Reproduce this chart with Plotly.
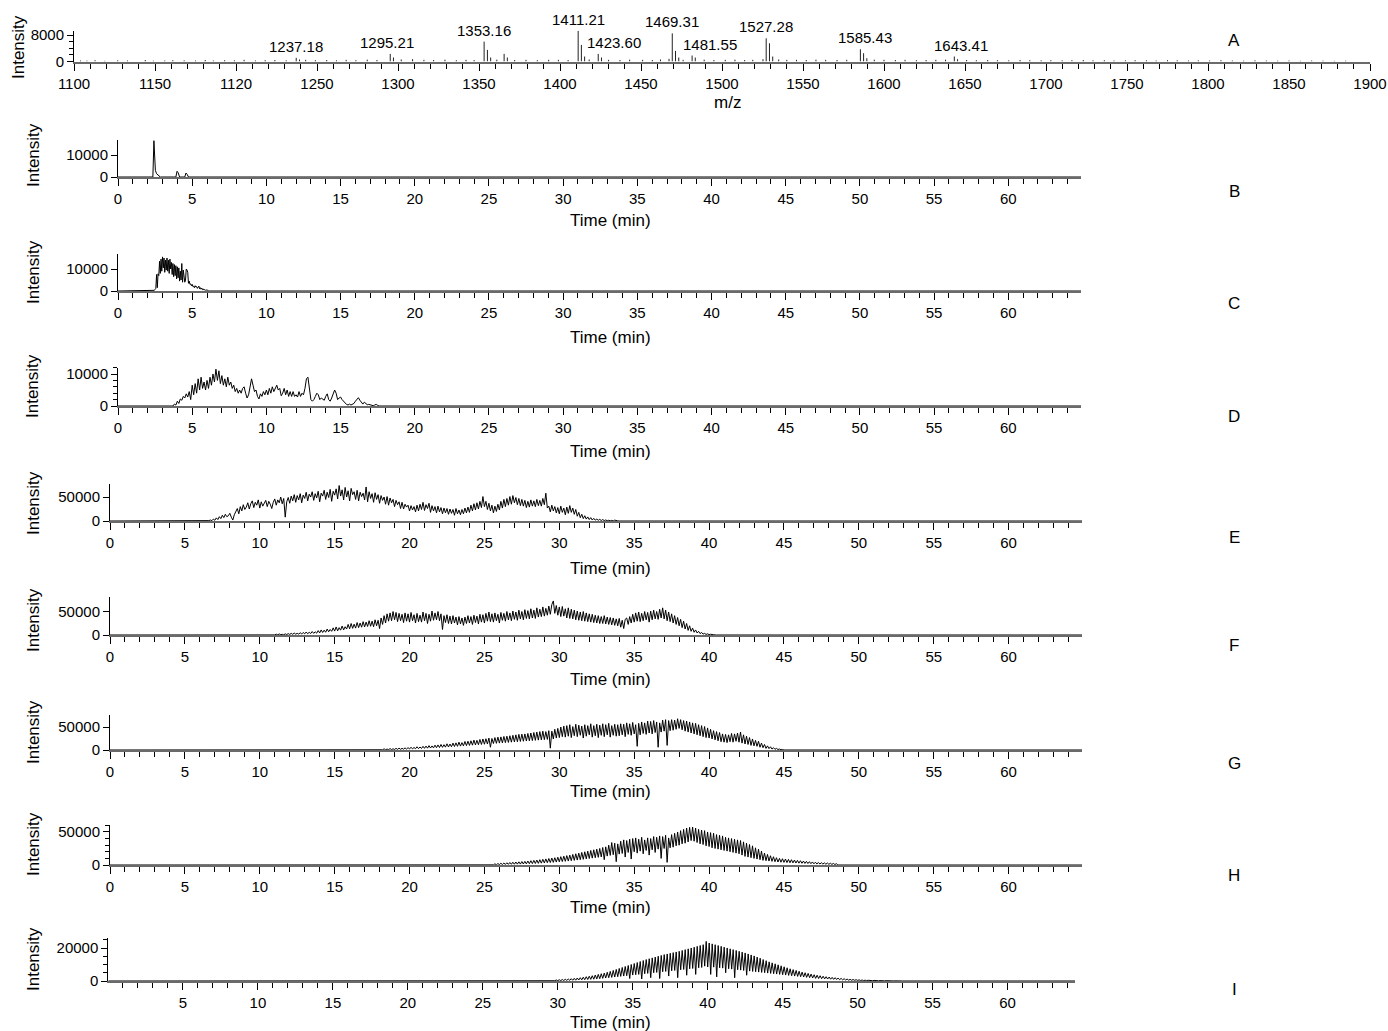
import plotly.graph_objects as go

W, H = 1388, 1031

# ---------------- Panel A: MALDI mass spectrum ----------------
peak_mz = [1237.18, 1239.2, 1295.21, 1297.2, 1309.0, 1353.16, 1355.2, 1357.2,
           1365.5, 1367.5, 1393.0, 1411.21, 1413.2, 1415.2, 1423.60, 1425.6,
           1467.3, 1469.31, 1471.3, 1473.3, 1481.55, 1483.5, 1525.3, 1527.28,
           1529.3, 1531.3, 1540.0, 1585.43, 1587.4, 1589.4, 1643.41, 1645.4]
peak_int = [1100, 600, 2300, 1200, 700, 6000, 3500, 1200,
            2300, 1200, 500, 9300, 5000, 1500, 2300, 1200,
            800, 8500, 3200, 1200, 1800, 1200, 700, 7000,
            5500, 1500, 500, 3700, 2500, 1000, 1500, 700]
labelled_mz = [1237.18, 1295.21, 1353.16, 1411.21, 1423.60, 1469.31,
               1481.55, 1527.28, 1585.43, 1643.41]
label_xshift = [0, -3, 0, 0, 16, 0, 18, 0, 5, 7]

noise_mz = [1104, 1108, 1113, 1119, 1127, 1133, 1144, 1149, 1156, 1161,
            1168, 1175, 1181, 1186, 1193, 1199, 1205, 1212, 1218, 1224,
            1231, 1243, 1249, 1256, 1262, 1268, 1274, 1281, 1287, 1302,
            1316, 1322, 1329, 1336, 1342, 1347, 1361, 1372, 1379, 1386,
            1399, 1405, 1418, 1430, 1437, 1443, 1451, 1457, 1462, 1476,
            1489, 1495, 1502, 1508, 1514, 1519, 1535, 1546, 1552, 1558,
            1564, 1571, 1577, 1594, 1600, 1607, 1613, 1620, 1626, 1632,
            1638, 1651, 1657, 1664, 1670, 1677, 1684, 1690, 1697, 1703,
            1710, 1716, 1723, 1729, 1736, 1742, 1749, 1755, 1762, 1768,
            1775, 1781, 1788, 1794, 1801, 1808, 1815, 1822, 1829, 1836,
            1843, 1850, 1857, 1864, 1871, 1878, 1885]
noise_int = [300, 250, 400, 200, 350, 300, 450, 250, 300, 400,
             350, 300, 450, 300, 400, 350, 500, 300, 400, 450,
             350, 500, 400, 450, 350, 500, 400, 550, 450, 600,
             500, 450, 550, 400, 500, 450, 550, 450, 500, 400,
             500, 450, 600, 500, 450, 550, 500, 450, 600, 500,
             550, 450, 500, 550, 450, 500, 600, 500, 450, 550,
             500, 450, 500, 550, 500, 450, 500, 400, 450, 500,
             550, 450, 400, 450, 400, 350, 450, 400, 350, 400,
             350, 400, 450, 350, 400, 300, 350, 400, 350, 300,
             400, 350, 300, 350, 300, 400, 300, 250, 350, 300,
             250, 300, 200, 300, 250, 200, 250]

# ---------------- Panels B-I: extracted ion chromatograms ----------------
B_time = [0, 2.35, 2.42, 2.47, 2.52, 2.6, 2.7, 2.85, 3.9, 3.98, 4.05, 4.15,
          4.5, 4.58, 4.66, 4.75]
B_int = [0, 0, 16500, 12000, 3000, 1500, 800, 0, 0, 2600, 2000, 0,
         0, 1800, 1200, 0]

C_t0, C_dt = 2.40, 0.05
C_int = [0, 300, 800, 1200, 7500, 1500, 7800, 7000, 13500, 8000,
         14500, 9000, 15500, 10500, 15000, 8500, 14000, 9500, 15000, 9000,
         14000, 8000, 14500, 10000, 13000, 7500, 12500, 6500, 12000, 7000,
         11500, 5500, 11000, 6000, 10500, 4500, 9000, 5000, 12500, 4000,
         9500, 4500, 4000, 5000, 10000, 9500, 8500, 3500, 4500, 3000,
         3200, 2400, 3000, 2000, 2200, 1500, 2400, 1800, 2000, 1200,
         1600, 2200, 1000, 1500, 800, 1300, 600, 900, 400, 700,
         300, 500, 200, 400, 100, 0]

D_t0, D_dt = 3.5, 0.1
D_int = [0, 200, 0, 600, 300, 1500, 800, 2200, 1800, 3000,
         2500, 3800, 2800, 4500, 2000, 6500, 3500, 7000, 4000, 8500,
         5000, 9000, 5500, 7500, 5000, 8000, 5500, 9000, 6500, 10000,
         7500, 11500, 8000, 11000, 7000, 9500, 6500, 8500, 6000, 9000,
         6500, 7500, 5500, 6500, 4500, 5500, 4000, 5000, 4000, 5500,
         6000, 4000, 2500, 3500, 6000, 8500, 6500, 4500, 5000, 3000,
         2200, 3800, 3000, 4500, 3500, 5000, 3500, 5500, 4000, 6000,
         4500, 5500, 6500, 5000, 5500, 3200, 4000, 5500, 3500, 5000,
         3000, 4500, 3000, 4500, 3000, 3500, 2800, 4500, 3000, 4000,
         3500, 5500, 8500, 9000, 5000, 2000, 1500, 2000, 3000, 4000,
         3500, 2000, 2500, 2000, 1800, 3000, 3800, 2000, 1500, 2500,
         4000, 5000, 4000, 2000, 2500, 2800, 2000, 1500, 800, 500,
         300, 600, 300, 500, 800, 1500, 2200, 2600, 1800, 1000,
         600, 1200, 900, 400, 500, 300, 200, 100, 300, 500,
         200, 0]

E_t0, E_dt = 6.5, 0.1
E_int = [0, 800, 2000, 600, 4000, 1500, 6500, 3000, 9000, 5000,
         12000, 7000, 14000, 9000, 11000, 16000, 8000, 2000, 13000, 19000,
         26000, 15000, 30000, 21000, 34000, 24000, 29000, 38000, 25000, 36000,
         42000, 28000, 39000, 33000, 44000, 27000, 40000, 31000, 37000, 43000,
         30000, 41000, 35000, 26000, 39000, 46000, 33000, 44000, 38000, 50000,
         36000, 47000, 8000, 40000, 49000, 37000, 52000, 42000, 55000, 39000,
         53000, 44000, 57000, 38000, 54000, 47000, 60000, 42000, 56000, 50000,
         61000, 43000, 57000, 48000, 62000, 40000, 58000, 52000, 64000, 45000,
         60000, 49000, 66000, 41000, 62000, 54000, 67000, 46000, 74000, 52000,
         65000, 44000, 70000, 50000, 63000, 42000, 68000, 55000, 61000, 45000,
         64000, 42000, 60000, 51000, 58000, 44000, 71000, 40000, 61000, 47000,
         57000, 39000, 59000, 45000, 55000, 37000, 53000, 43000, 50000, 35000,
         51000, 33000, 48000, 38000, 45000, 30000, 43000, 34000, 40000, 26000,
         39000, 25000, 35000, 29000, 33000, 21000, 32000, 23000, 30000, 19000,
         33000, 21000, 35000, 24000, 39000, 22000, 34000, 26000, 37000, 18000,
         32000, 21000, 30000, 17000, 31000, 19000, 28000, 15000, 27000, 17000,
         26000, 14000, 25000, 16000, 24000, 12000, 26000, 15000, 23000, 13000,
         24000, 15000, 27000, 17000, 29000, 18000, 33000, 21000, 36000, 23000,
         38000, 25000, 41000, 28000, 51000, 30000, 41000, 24000, 37000, 21000,
         33000, 17000, 31000, 20000, 35000, 23000, 41000, 27000, 45000, 30000,
         47000, 33000, 51000, 35000, 53000, 38000, 49000, 34000, 47000, 32000,
         45000, 31000, 43000, 28000, 41000, 29000, 44000, 31000, 42000, 30000,
         45000, 32000, 43000, 31000, 47000, 34000, 58000, 27000, 31000, 19000,
         33000, 21000, 30000, 17000, 28000, 15000, 31000, 18000, 27000, 13000,
         29000, 16000, 32000, 18000, 27000, 14000, 24000, 10000, 18000, 7000,
         14000, 5000, 11000, 4000, 8500, 3000, 7000, 2000, 5500, 1800,
         4000, 1500, 3500, 1000, 3000, 800, 2200, 600, 1500, 400,
         1200, 300, 1800, 200, 300, 0]

F_t0, F_dt = 10.8, 0.1
F_int = [0, 1200, 200, 1800, 500, 2200, 800, 1500, 400, 2500,
         900, 3000, 1200, 3500, 1500, 4200, 1800, 3600, 2000, 4800,
         2200, 5500, 2500, 6500, 2800, 5800, 3200, 7500, 3500, 7000,
         4000, 9500, 4500, 11000, 5500, 10500, 6000, 13000, 7000, 12000,
         8000, 15500, 8500, 17500, 9000, 16000, 10500, 19500, 11000, 18000,
         13000, 23000, 13500, 25000, 14500, 23500, 15000, 27000, 16000, 26000,
         17000, 29000, 17500, 28000, 18500, 31000, 19000, 30000, 18000, 33000,
         20000, 32000, 14000, 37000, 23000, 42000, 26000, 46000, 30000, 48000,
         31000, 51000, 33000, 49000, 29000, 47000, 31000, 45000, 27000, 48000,
         30000, 46000, 28000, 49000, 31000, 44000, 26000, 47000, 29000, 43000,
         28000, 50000, 31000, 47000, 25000, 45000, 30000, 52000, 32000, 48000,
         33000, 51000, 31000, 46000, 12000, 42000, 27000, 44000, 25000, 41000,
         24000, 42000, 26000, 39000, 22000, 40000, 24000, 37000, 21000, 39000,
         25000, 42000, 26000, 40000, 23000, 43000, 27000, 41000, 24000, 45000,
         28000, 44000, 26000, 47000, 30000, 50000, 29000, 46000, 28000, 48000,
         31000, 45000, 26000, 49000, 32000, 47000, 30000, 51000, 33000, 48000,
         31000, 52000, 34000, 50000, 32000, 54000, 35000, 51000, 33000, 55000,
         36000, 53000, 35000, 57000, 37000, 54000, 36000, 59000, 39000, 56000,
         40000, 61000, 41000, 58000, 43000, 63000, 45000, 66000, 74000, 47000,
         64000, 43000, 61000, 40000, 62000, 41000, 57000, 37000, 59000, 36000,
         56000, 35000, 54000, 33000, 52000, 32000, 50000, 31000, 51000, 30000,
         48000, 29000, 46000, 28000, 45000, 27000, 43000, 26000, 42000, 25000,
         40000, 25000, 42000, 24000, 39000, 23000, 38000, 22000, 37000, 21000,
         35000, 20000, 36000, 17000, 32000, 14000, 34000, 37000, 23000, 40000,
         26000, 45000, 28000, 48000, 30000, 50000, 29000, 47000, 31000, 51000,
         33000, 49000, 28000, 52000, 33000, 54000, 35000, 51000, 34000, 56000,
         37000, 59000, 35000, 54000, 31000, 50000, 29000, 46000, 26000, 42000,
         23000, 38000, 20000, 34000, 16000, 30000, 13000, 25000, 10000, 20000,
         8000, 15000, 6000, 11000, 4500, 8000, 3000, 5500, 2000, 3500,
         1200, 2500, 800, 1500, 400, 700, 200, 0]

G_t0, G_dt = 18.0, 0.1
G_int = [300, 1800, 500, 2500, 700, 2000, 900, 3000, 1000, 2600,
         1200, 3500, 1400, 4000, 1500, 3600, 1800, 4600, 2000, 5200,
         2200, 6000, 2500, 5500, 2800, 7000, 3000, 6500, 3300, 8000,
         3600, 8500, 4000, 9500, 4300, 8800, 4600, 10500, 5000, 11000,
         5400, 12000, 5800, 11500, 6200, 13500, 6600, 13000, 7000, 15000,
         7500, 15500, 8000, 17000, 8500, 16000, 9000, 18500, 9500, 19000,
         10000, 20000, 10500, 21500, 11000, 21000, 11500, 23000, 12000, 24000,
         12500, 24500, 13000, 26000, 6000, 25000, 14000, 27000, 14500, 28000,
         15000, 28500, 15500, 29500, 16000, 30000, 16500, 31000, 17000, 32000,
         17500, 33000, 18000, 34000, 18500, 34500, 19000, 35000, 19500, 36000,
         20000, 37000, 20500, 38000, 21000, 39000, 21500, 40000, 22000, 41000,
         22500, 40000, 23000, 42000, 4000, 41000, 24000, 45000, 26000, 47000,
         27000, 50000, 29000, 52000, 28000, 53000, 30000, 55000, 27000, 51000,
         31000, 56000, 29000, 54000, 32000, 52000, 26000, 55000, 30000, 53000,
         33000, 57000, 28000, 53000, 31000, 56000, 27000, 54000, 32000, 57000,
         29000, 55000, 33000, 58000, 28000, 53000, 32000, 56000, 30000, 55000,
         31000, 57000, 33000, 56000, 29000, 59000, 34000, 57000, 32000, 60000,
         35000, 55000, 8000, 58000, 33000, 61000, 36000, 59000, 34000, 63000,
         37000, 62000, 35000, 64000, 38000, 61000, 6000, 59000, 39000, 65000,
         41000, 66000, 10000, 64000, 42000, 66000, 43000, 65000, 45000, 68000,
         47000, 66000, 44000, 64000, 41000, 63000, 39000, 61000, 37000, 59000,
         35000, 58000, 33000, 55000, 31000, 53000, 29000, 51000, 27000, 48000,
         26000, 45000, 24000, 42000, 22000, 40000, 20000, 38000, 18000, 35000,
         17000, 34000, 16000, 33000, 18000, 36000, 17000, 35000, 19000, 37000,
         17000, 39000, 15000, 33000, 13000, 30000, 12000, 27000, 10000, 24000,
         9000, 21000, 8000, 19000, 6000, 15000, 5000, 12000, 3500, 9000,
         3000, 7000, 2000, 5000, 1500, 3500, 1000, 2200, 500, 1200,
         0]

H_t0, H_dt = 25.6, 0.1
H_int = [200, 1800, 400, 2200, 600, 2600, 800, 3000, 900, 3400,
         1000, 3800, 1100, 4200, 1200, 4500, 1300, 4800, 1400, 5200,
         1500, 5500, 1700, 6000, 1900, 6500, 2100, 7000, 2300, 7500,
         2500, 8000, 2800, 8600, 3100, 9200, 3400, 9800, 3700, 10500,
         4000, 11000, 4400, 11800, 4800, 12600, 5200, 13400, 5600, 14200,
         6000, 15000, 6500, 16000, 7000, 17000, 7500, 18000, 8000, 19000,
         8600, 20000, 9200, 21000, 9800, 22000, 10400, 23000, 11000, 24000,
         11600, 25000, 12200, 26500, 8000, 27500, 13500, 30000, 14500, 34000,
         15500, 33000, 5000, 32000, 16500, 36000, 17500, 38000, 12000, 37000,
         19000, 39000, 9000, 40000, 20000, 41000, 18000, 39000, 21000, 42000,
         17000, 38000, 22000, 41000, 15000, 40000, 23000, 43000, 19000, 42000,
         24000, 44000, 10000, 43000, 25000, 45000, 4000, 41000, 26000, 46000,
         27000, 48000, 29000, 50000, 30000, 52000, 32000, 54000, 33000, 56000,
         35000, 57000, 37000, 57500, 36000, 56000, 34000, 54000, 32000, 53000,
         31000, 52000, 29000, 50000, 28000, 49000, 26000, 48000, 25000, 46000,
         24000, 45000, 23000, 44000, 22000, 42000, 21000, 41000, 20000, 40000,
         19000, 39000, 18000, 38000, 17000, 37000, 15000, 35000, 13000, 33000,
         12000, 31000, 11000, 29000, 10000, 26000, 9000, 24000, 8000, 21000,
         7000, 18000, 6500, 16000, 6000, 14000, 5500, 12500, 5000, 11000,
         4500, 10000, 4200, 9500, 4000, 9000, 3700, 8500, 3400, 8000,
         3200, 7500, 3000, 7000, 2800, 6500, 2600, 6000, 2400, 5500,
         2200, 5000, 2000, 4600, 1800, 4200, 1600, 3800, 1500, 3500,
         1400, 3200, 1200, 3000, 1000, 2700, 900, 2400, 700, 2000,
         0]

I_t0, I_dt = 29.4, 0.1
I_int = [0, 300, 100, 450, 150, 600, 200, 750, 250, 900,
         300, 1050, 350, 1200, 400, 1400, 450, 1600, 500, 1800,
         600, 2000, 700, 2300, 800, 2600, 900, 2900, 1000, 3200,
         1100, 3600, 1200, 4000, 1400, 4400, 1600, 4800, 1800, 5300,
         2000, 5800, 2200, 6400, 2400, 7000, 2600, 7600, 2800, 8200,
         3000, 8800, 3200, 9400, 1500, 10000, 3600, 10600, 3800, 11200,
         4000, 11800, 1200, 12400, 4400, 13000, 4600, 13500, 2000, 14000,
         5000, 14500, 5200, 15000, 1500, 15500, 5600, 16000, 5800, 16400,
         3000, 16800, 6200, 17200, 6400, 17600, 2000, 18000, 6800, 18500,
         7000, 19000, 3500, 19500, 7400, 20000, 7600, 20500, 4000, 21000,
         8000, 21500, 8200, 22000, 9000, 24000, 8500, 23000, 4000, 22500,
         8400, 22000, 2500, 21500, 8000, 21000, 7800, 20500, 5000, 20000,
         7400, 19500, 7200, 19000, 2000, 18500, 6800, 18000, 6600, 17500,
         6400, 17000, 3500, 16400, 6000, 15800, 5800, 15200, 5600, 14500,
         5400, 13800, 5200, 13000, 5000, 12300, 4800, 11600, 4600, 11000,
         4400, 10400, 4200, 9800, 4000, 9200, 3800, 8600, 3600, 8000,
         3400, 7400, 3200, 6900, 3000, 6400, 2800, 5900, 2600, 5400,
         2400, 5000, 2200, 4600, 2000, 4200, 1800, 3800, 1600, 3500,
         1500, 3200, 1400, 2900, 1300, 2600, 1200, 2400, 1100, 2200,
         1000, 2000, 900, 1800, 800, 1600, 700, 1400, 600, 1200,
         500, 1000, 450, 900, 400, 800, 350, 700, 300, 600,
         250, 500, 220, 450, 200, 400, 170, 350, 150, 300,
         120, 260, 100, 220, 80, 190, 70, 160, 60, 130,
         50, 100, 40, 80, 30, 50, 0]

FONT = "Arial, 'Liberation Sans', Helvetica, sans-serif"


def grid(t0, dt, vals):
    return [round(t0 + dt * i, 3) for i in range(len(vals))]


chroms = {
    "B": (B_time, B_int),
    "C": (grid(C_t0, C_dt, C_int), C_int),
    "D": (grid(D_t0, D_dt, D_int), D_int),
    "E": (grid(E_t0, E_dt, E_int), E_int),
    "F": (grid(F_t0, F_dt, F_int), F_int),
    "G": (grid(G_t0, G_dt, G_int), G_int),
    "H": (grid(H_t0, H_dt, H_int), H_int),
    "I": (grid(I_t0, I_dt, I_int), I_int),
}

# Panel geometry in pixels: plot left/right, zero line, top edge, plus label positions
geom = {
    "A": dict(xl=74, xr=1370, y0=61.5, y1=30.7, xrange=[1100, 1900], yrange=[0, 9300],
              ydt=8000, ymin=2000, title_y=102, ylab_x=18, ylab_y=47, letter_y=41),
    "B": dict(xl=118, xr=1081, y0=177, y1=139.6, xrange=[0, 64.9], yrange=[0, 17000],
              ydt=10000, ymin=None, title_y=220, ylab_x=33, ylab_y=155, letter_y=191),
    "C": dict(xl=118, xr=1081, y0=291, y1=253.6, xrange=[0, 64.9], yrange=[0, 17000],
              ydt=10000, ymin=None, title_y=338, ylab_x=33, ylab_y=272, letter_y=304),
    "D": dict(xl=118, xr=1081, y0=406, y1=367.6, xrange=[0, 64.9], yrange=[0, 12000],
              ydt=10000, ymin=2000, title_y=451, ylab_x=33, ylab_y=386, letter_y=416),
    "E": dict(xl=110, xr=1082, y0=521, y1=483.6, xrange=[0, 64.9], yrange=[0, 78000],
              ydt=50000, ymin=None, title_y=568, ylab_x=33, ylab_y=503, letter_y=537),
    "F": dict(xl=110, xr=1082, y0=635, y1=596.8, xrange=[0, 64.9], yrange=[0, 83000],
              ydt=50000, ymin=None, title_y=679, ylab_x=33, ylab_y=620, letter_y=645),
    "G": dict(xl=110, xr=1082, y0=750, y1=714.6, xrange=[0, 64.9], yrange=[0, 77000],
              ydt=50000, ymin=None, title_y=791, ylab_x=33, ylab_y=732, letter_y=763),
    "H": dict(xl=110, xr=1082, y0=865, y1=824.7, xrange=[0, 64.9], yrange=[0, 61000],
              ydt=50000, ymin=10000, title_y=907, ylab_x=33, ylab_y=844, letter_y=875),
    "I": dict(xl=108.3, xr=1075, y0=981, y1=938.1, xrange=[0.02, 64.5], yrange=[0, 26000],
              ydt=20000, ymin=5000, title_y=1022, ylab_x=33, ylab_y=959, letter_y=989),
}

fig = go.Figure()
layout = dict(width=W, height=H,
              margin=dict(l=0, r=0, t=0, b=0, pad=0, autoexpand=False),
              paper_bgcolor="white", plot_bgcolor="white", showlegend=False,
              font=dict(family=FONT, color="black", size=15))
annotations = []

line_style = dict(color="black", width=1)

for idx, key in enumerate("ABCDEFGHI"):
    g = geom[key]
    n = "" if idx == 0 else str(idx + 1)
    xa, ya = "x" + n, "y" + n
    xdom = [g["xl"] / W, g["xr"] / W]
    ydom = [1 - g["y0"] / H, 1 - g["y1"] / H]

    if key == "A":
        xminor = dict(ticks="outside", ticklen=5, tickcolor="black", tickwidth=1,
                      tickmode="linear", tick0=1100, dtick=10)
        xa_cfg = dict(tickmode="linear", tick0=1100, dtick=50,
                      labelalias={"1200": "1120"})
    else:
        xminor = dict(ticks="outside", ticklen=5, tickcolor="black", tickwidth=1,
                      tickmode="linear", tick0=0, dtick=1)
        xa_cfg = dict(tickmode="linear", tick0=0, dtick=5)

    layout["xaxis" + n] = dict(
        domain=xdom, range=g["xrange"], anchor=ya, showline=True,
        linecolor="#6a6a6a", linewidth=2, ticks="outside", ticklen=7,
        tickcolor="black", tickwidth=1, showgrid=False, zeroline=False,
        tickfont=dict(size=15, family=FONT, color="black"), minor=xminor,
        tickformat="d", **xa_cfg)

    ycfg = dict(
        domain=ydom, range=g["yrange"], anchor=xa, showline=True,
        linecolor="black", linewidth=1, ticks="outside", ticklen=6,
        tickcolor="black", tickwidth=1, showgrid=False, zeroline=False,
        tickmode="linear", tick0=0, dtick=g["ydt"], tickformat="d",
        tickfont=dict(size=15, family=FONT, color="black"))
    if g["ymin"]:
        ycfg["minor"] = dict(ticks="outside", ticklen=4, tickcolor="black", tickwidth=1,
                             tickmode="linear", tick0=0, dtick=g["ymin"])
    layout["yaxis" + n] = ycfg

    # axis titles and panel letter
    annotations.append(dict(text="Intensity", textangle=-90, xref="paper", yref="paper",
                            x=g["ylab_x"] / W, y=1 - g["ylab_y"] / H, showarrow=False,
                            font=dict(size=17, family=FONT, color="black"),
                            xanchor="center", yanchor="middle"))
    annotations.append(dict(text="m/z" if key == "A" else "Time (min)",
                            xref="paper", yref="paper",
                            x=(727 if key == "A" else 610) / W, y=1 - g["title_y"] / H,
                            showarrow=False, font=dict(size=17, family=FONT, color="black"),
                            xanchor="center", yanchor="middle"))
    annotations.append(dict(text=key, xref="paper", yref="paper", x=1234 / W,
                            y=1 - g["letter_y"] / H, showarrow=False,
                            font=dict(size=17, family=FONT, color="black"),
                            xanchor="center", yanchor="middle"))

    if key == "A":
        # stick spectrum: baseline noise, then the ion peaks
        sx, sy = [], []
        for m, v in list(zip(noise_mz, noise_int)) + list(zip(peak_mz, peak_int)):
            sx += [m, m, None]
            sy += [0, v, None]
        fig.add_trace(go.Scatter(x=sx, y=sy, mode="lines", line=dict(color="#222", width=1),
                                 xaxis=xa, yaxis=ya, hoverinfo="skip", cliponaxis=False))
        for m, dx in zip(labelled_mz, label_xshift):
            v = peak_int[peak_mz.index(m)]
            annotations.append(dict(text=f"{m:.2f}", x=m, y=v, xref=xa, yref=ya,
                                    showarrow=False, xanchor="center", yanchor="bottom",
                                    xshift=dx, yshift=1,
                                    font=dict(size=15, family=FONT, color="black")))
    else:
        t, v = chroms[key]
        x = [g["xrange"][0]] + t + [g["xrange"][1]]
        y = [0] + v + [0]
        fig.add_trace(go.Scatter(x=x, y=y, mode="lines", line=line_style,
                                 xaxis=xa, yaxis=ya, hoverinfo="skip", cliponaxis=False))

layout["annotations"] = annotations
fig.update_layout(**layout)
fig.write_html("out.html")
